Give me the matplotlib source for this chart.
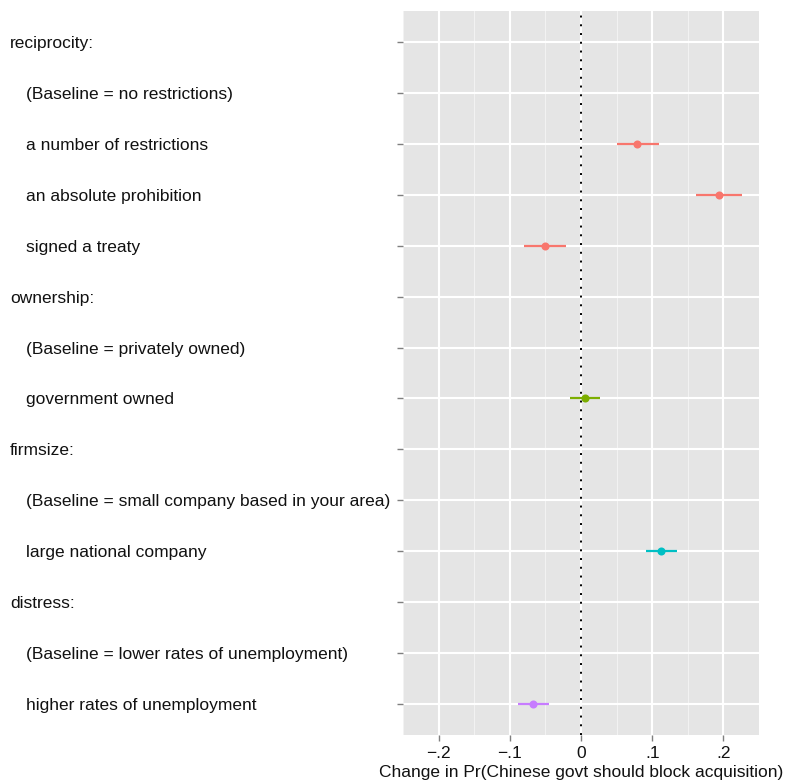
import matplotlib
matplotlib.use("Agg")
import matplotlib.pyplot as plt
import matplotlib.transforms as mtransforms

labels = ["reciprocity:", "(Baseline = no restrictions)", "a number of restrictions",
          "an absolute prohibition", "signed a treaty", "ownership:",
          "(Baseline = privately owned)", "government owned", "firmsize:",
          "(Baseline = small company based in your area)", "large national company",
          "distress:", "(Baseline = lower rates of unemployment)", "higher rates of unemployment"]
is_header = [True, False, False, False, False, True, False, False, True, False, False, True, False, False]

est_labels = ["a number of restrictions", "an absolute prohibition", "signed a treaty",
              "government owned", "large national company", "higher rates of unemployment"]
est = [0.079, 0.194, -0.050, 0.006, 0.113, -0.067]
lo = [0.050, 0.162, -0.080, -0.015, 0.091, -0.088]
hi = [0.110, 0.226, -0.021, 0.027, 0.135, -0.045]
groups = ["reciprocity", "reciprocity", "reciprocity", "ownership", "firmsize", "distress"]
group_colors = {"reciprocity": "#F8766D", "ownership": "#7CAE00",
                "firmsize": "#00BFC4", "distress": "#C77CFF"}

xticks = [-0.2, -0.1, 0, 0.1, 0.2]
xticklabels = ["\u2212.2", "\u2212.1", "0", ".1", ".2"]
xlabel = "Change in Pr(Chinese govt should block acquisition)"

plt.rcParams['font.family'] = ['Liberation Sans', 'DejaVu Sans']

W, H = 785, 782
FS = 12.5
fig = plt.figure(figsize=(W / 100, H / 100), dpi=100)
ax = fig.add_axes([403 / W, 1 - 735 / H, (759 - 403) / W, (735 - 11) / H])
ax.set_facecolor("#E5E5E5")
for s in ax.spines.values():
    s.set_visible(False)

n = len(labels)
ypos = {lab: n - i for i, lab in enumerate(labels)}

ax.set_xlim(-0.25, 0.25)
ax.set_ylim(0.4, n + 0.6)

# grid
for x in [-0.25, -0.15, -0.05, 0.05, 0.15, 0.25]:
    ax.axvline(x, color="#F2F2F2", lw=0.8, zorder=1)
for x in xticks:
    ax.axvline(x, color="white", lw=1.5, zorder=1)
for i in range(n):
    ax.axhline(n - i, color="white", lw=1.5, zorder=1)

ax.axvline(0, color="black", lw=1.4, ls=(0, (1, 3.5)), zorder=2)

for lab, e, l, h, g in zip(est_labels, est, lo, hi, groups):
    y = ypos[lab]
    c = group_colors[g]
    ax.plot([l, h], [y, y], color=c, lw=1.6, solid_capstyle="butt", zorder=3)
    ax.plot([e], [y], "o", color=c, ms=5.8, mew=0, zorder=4)

ax.set_yticks([n - i for i in range(n)])
ax.set_yticklabels([""] * n)
ax.set_xticks(xticks)
ax.set_xticklabels(xticklabels, fontsize=FS, color="#111111")
ax.tick_params(axis="both", length=4, width=1.0, color="#7F7F7F")
ax.tick_params(axis="x", pad=4)

trans = mtransforms.blended_transform_factory(fig.transFigure, ax.transData)
trans = trans + mtransforms.ScaledTranslation(0, -1.5 / 100, fig.dpi_scale_trans)
for i, (lab, hd) in enumerate(zip(labels, is_header)):
    x = 10 / W if hd else 26 / W
    fig.text(x, n - i, lab, transform=trans, ha="left", va="center", fontsize=FS, color="#111111")

ax.set_xlabel(xlabel, fontsize=FS, labelpad=3, color="#111111")

fig.savefig("out.png", dpi=100)
